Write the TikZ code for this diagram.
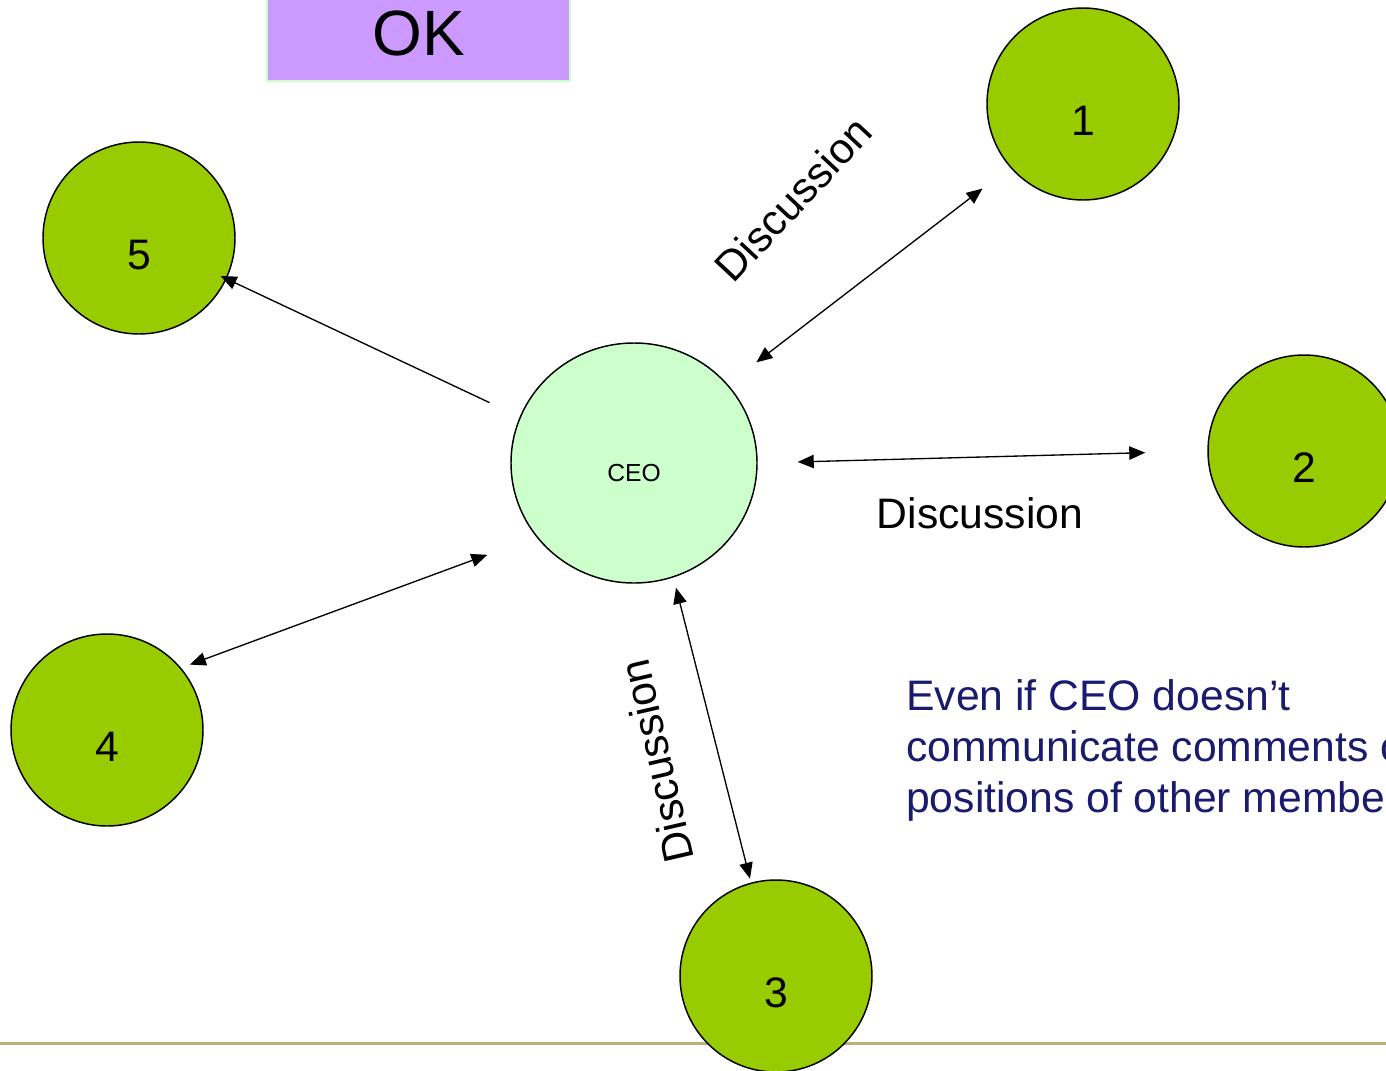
\documentclass[tikz,border=0pt]{standalone}
\usepackage{fontspec}
\setmainfont{Liberation Sans}
\usepackage{xcolor}
\usetikzlibrary{positioning}
\usetikzlibrary{arrows.meta}
\usetikzlibrary{shapes.geometric}
\definecolor{memgreen}{RGB}{153,204,0}
\definecolor{ceogreen}{RGB}{204,255,204}
\definecolor{okviolet}{RGB}{204,153,255}
\definecolor{notenavy}{RGB}{26,26,110}
\definecolor{rulegold}{RGB}{192,176,112}
\tikzset{member/.style={circle, draw, line width=1.1pt, fill=memgreen,
minimum size=144pt, inner sep=0pt,
label={[font=\fontsize{32}{38}\selectfont, yshift=-12.75pt]center:#1}},
ceo/.style={ellipse, draw, line width=1.1pt, fill=ceogreen,
minimum width=184.5pt, minimum height=180pt, inner sep=0pt,
label={[font=\fontsize{18.5}{22}\selectfont, yshift=-7.5pt]center:CEO}}}

\begin{document}
\begin{tikzpicture}[x=0.75pt, y=-0.75pt, >={Triangle[length=12pt,width=10pt]},
talk/.style={font=\fontsize{32}{38}\selectfont, inner sep=0pt},
link/.style={line width=1pt, <->}, push/.style={line width=1pt, ->}]
	\useasboundingbox (0,0) rectangle (1386,1071);
	\clip (0,0) rectangle (1386,1071);
	\draw[rulegold, line width=2.25pt] (0,1043) -- (1386,1043);
	% the box at the top
	\node[draw=ceogreen, line width=1.5pt, fill=okviolet, minimum width=227pt, minimum height=71.25pt,
		inner sep=0pt, font=\fontsize{48}{56}\selectfont] (ok) at (418.5,33.5) {OK};
	\node[ceo] (ceo) at (634,463) {};
	\node[member=1] (n1) at (1083,104) {};
	\node[member=2] (n2) at (1304,451) {};
	\node[member=3] (n3) at (776,976) {};
	\node[member=4] (n4) at (107,730) {};
	\node[member=5] (n5) at (139,238) {};
	\draw[link, shorten <=27pt, shorten >=26pt] (ceo.40) -- (n1.221);
	\draw[link, shorten <=30pt, shorten >=46.5pt] (ceo.0) -- (n2.180);
	\draw[link, shorten <=8pt, shorten >=3pt] (ceo.289) -- (n3.105);
	\draw[link, shorten <=39pt, shorten >=7pt] (ceo.217) -- (n4.40);
	\draw[push, shorten <=25pt, shorten >=-5pt] (ceo.158) -- (n5.335);
	\node[talk, rotate=47] (talk1) at (793,199) {Discussion};
	\node[talk] (talk2) at (980,513) {Discussion};
	\node[talk, rotate=103] (talk3) at (656,761) {Discussion};
	\node[anchor=north west, align=left, inner sep=0pt, text=notenavy,
		font=\fontsize{32}{38.25}\selectfont] (note) at (906,679)
		{Even if CEO doesn’t\\communicate comments o\\positions of other membe};
\end{tikzpicture}
\end{document}
